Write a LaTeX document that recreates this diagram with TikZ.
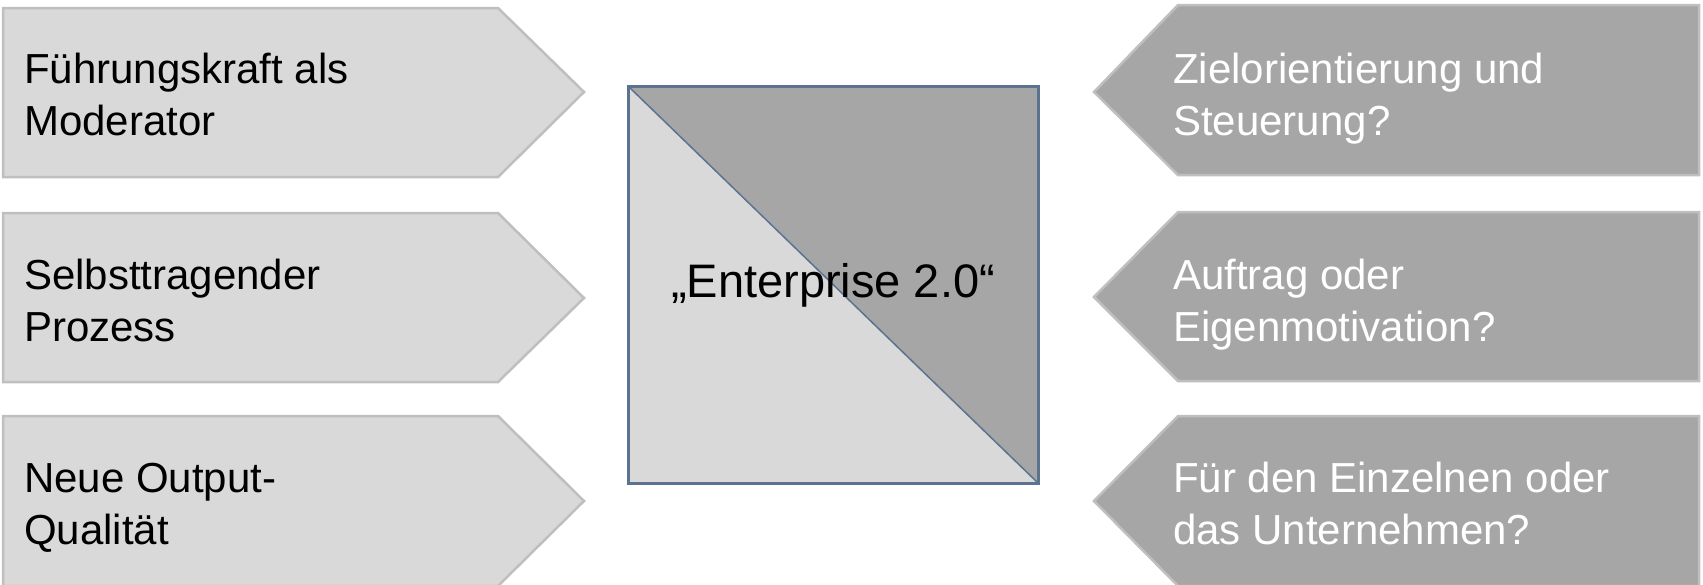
\documentclass[tikz,border=0pt]{standalone}
\usepackage{fontspec}
\setmainfont{Liberation Sans}
\usepackage{tikz}

\definecolor{panelLight}{HTML}{D9D9D9}
\definecolor{panelDark}{HTML}{A6A6A6}
\definecolor{panelEdge}{HTML}{BFBFBF}
\definecolor{squareEdge}{HTML}{5A7391}

\begin{document}
\begin{tikzpicture}[x=1pt,y=-1pt,
  leftpanel/.style={fill=panelLight, draw=panelEdge, line width=2.5pt, line join=miter},
  rightpanel/.style={fill=panelDark, draw=panelEdge, line width=2.5pt, line join=miter},
  lefttext/.style={anchor=base west, align=left, inner sep=0pt, text=black,
    font=\fontsize{42}{52}\selectfont},
  righttext/.style={lefttext, text=white}]
\useasboundingbox (0,0) rectangle (1703,584);
\clip (0,0) rectangle (1703,584);
% left column
\draw[leftpanel] (3,8) -- (498,8) -- (584,92) -- (498,177) -- (3,177) -- cycle;
\draw[leftpanel] (3,213) -- (498,213) -- (584,298) -- (498,382) -- (3,382) -- cycle;
\draw[leftpanel] (3,416) -- (498,416) -- (584,501) -- (498,586) -- (3,586) -- cycle;
%
\node[lefttext] (lead) at (24,135) {Führungskraft als\\Moderator};
\node[lefttext] (selfrun) at (24,341) {Selbsttragender\\Prozess};
\node[lefttext] (output) at (24,544) {Neue Output-\\Qualität};
% centre square
\fill[panelLight] (628,86) rectangle (1038,483);
\fill[panelDark] (628,86) -- (1038,86) -- (1038,483) -- cycle;
\draw[squareEdge, line width=1.5pt] (628,86) -- (1038,483);
\draw[squareEdge, line width=3pt] (628,86) rectangle (1038,483);
\node[font=\fontsize{47}{56}\selectfont, inner sep=0pt] (core) at (833,285) {„Enterprise 2.0“};
% right column
\draw[rightpanel] (1699,5) -- (1178,5) -- (1094,92) -- (1178,175) -- (1699,175) -- cycle;
\draw[rightpanel] (1699,212) -- (1178,212) -- (1094,297) -- (1178,381) -- (1699,381) -- cycle;
\draw[rightpanel] (1699,416) -- (1178,416) -- (1094,501) -- (1178,586) -- (1699,586) -- cycle;
%
\node[righttext] (steer) at (1173,135) {Zielorientierung und\\Steuerung?};
\node[righttext] (motive) at (1173,341) {Auftrag oder\\Eigenmotivation?};
\node[righttext] (whom) at (1173,544) {Für den Einzelnen oder\\das Unternehmen?};
\end{tikzpicture}
\end{document}
